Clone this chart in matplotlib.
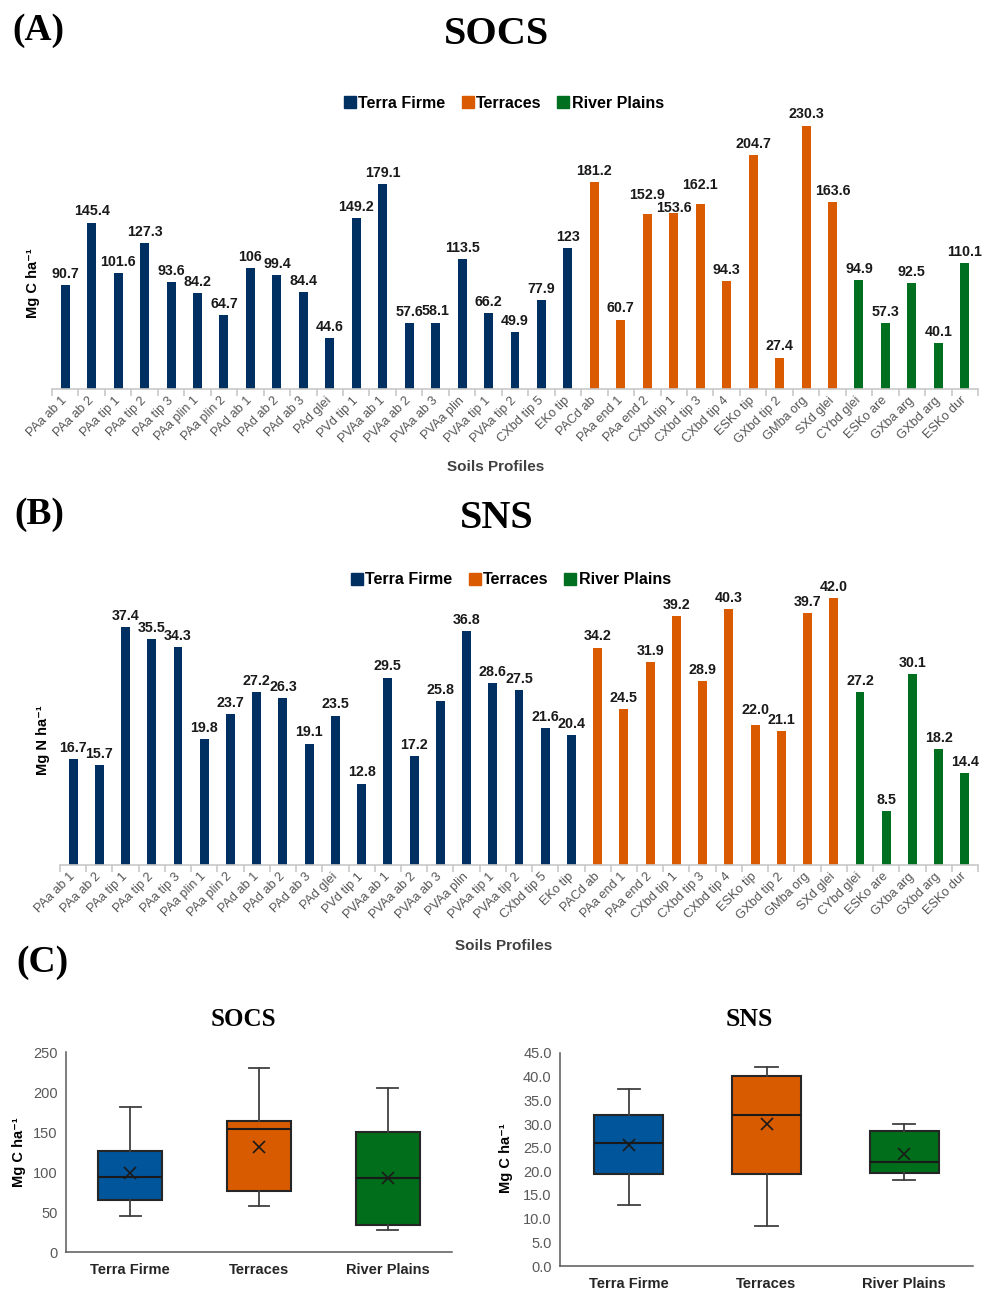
import matplotlib.pyplot as plt
from matplotlib.patches import Patch
from matplotlib.ticker import FormatStrFormatter
import numpy as np

plt.rcParams['font.family'] = ['Liberation Sans', 'DejaVu Sans']

# soil profiles, grouped by landscape position
terra_firme = ['PAa ab 1', 'PAa ab 2', 'PAa tip 1', 'PAa tip 2', 'PAa tip 3',
               'PAa plin 1', 'PAa plin 2', 'PAd ab 1', 'PAd ab 2', 'PAd ab 3',
               'PAd glei', 'PVd tip 1', 'PVAa ab 1', 'PVAa ab 2', 'PVAa ab 3',
               'PVAa plin', 'PVAa tip 1', 'PVAa tip 2', 'CXbd tip 5', 'EKo tip']
terraces = ['PACd ab', 'PAa end 1', 'PAa end 2', 'CXbd tip 1', 'CXbd tip 3',
            'CXbd tip 4', 'ESKo tip', 'GXbd tip 2', 'GMba org', 'SXd glei']
river_plains = ['CYbd glei', 'ESKo are', 'GXba arg', 'GXbd arg', 'ESKo dur']

# soil organic carbon stock (Mg C / ha)
socs_tf = [90.7, 145.4, 101.6, 127.3, 93.6, 84.2, 64.7, 106, 99.4, 84.4,
           44.6, 149.2, 179.1, 57.6, 58.1, 113.5, 66.2, 49.9, 77.9, 123]
socs_te = [181.2, 60.7, 152.9, 153.6, 162.1, 94.3, 204.7, 27.4, 230.3, 163.6]
socs_rp = [94.9, 57.3, 92.5, 40.1, 110.1]

# soil nitrogen stock (Mg N / ha)
sns_tf = [16.7, 15.7, 37.4, 35.5, 34.3, 19.8, 23.7, 27.2, 26.3, 19.1,
          23.5, 12.8, 29.5, 17.2, 25.8, 36.8, 28.6, 27.5, 21.6, 20.4]
sns_te = [34.2, 24.5, 31.9, 39.2, 28.9, 40.3, 22.0, 21.1, 39.7, 42.0]
sns_rp = [27.2, 8.5, 30.1, 18.2, 14.4]

groups = ['Terra Firme', 'Terraces', 'River Plains']

# box summaries: whisker low, Q1, median, Q3, whisker high, mean
socs_box = [[44.6, 65.2, 93.4, 125.8, 181.2, 99.3],
            [57.3, 76.8, 153.2, 164.0, 230.3, 131.6],
            [27.4, 33.2, 92.2, 150.3, 204.7, 92.2]]
sns_box = [[12.8, 19.5, 25.9, 31.95, 37.4, 25.5],
           [8.5, 19.4, 31.95, 40.05, 42.0, 30.1],
           [18.2, 19.75, 22.0, 28.56, 30.1, 23.7]]

bar_colors = ['#002F61', '#DA5A00', '#007020']
box_colors = ['#00559B', '#D95B00', '#006E1A']

W, H = 992, 1293


def rect(l, t, r, b):
    return [l / W, 1 - b / H, (r - l) / W, (b - t) / H]


def fx(x):
    return x / W


def fy(y):
    return 1 - y / H


fig = plt.figure(figsize=(W / 100, H / 100), dpi=100)
serif = ['Liberation Serif', 'DejaVu Serif']


def bar_panel(ax, vals, fmt, ymax, nudge):
    names = terra_firme + terraces + river_plains
    start = 0
    for v, c in zip(vals, bar_colors):
        x = np.arange(start, start + len(v))
        bars = ax.bar(x, v, width=0.34, color=c)
        for i, (b, val) in enumerate(zip(bars, v)):
            dy = 3 + nudge.get(start + i, 0)
            ax.annotate(fmt(val), (b.get_x() + b.get_width() / 2, val),
                        xytext=(0, dy), textcoords='offset points',
                        ha='center', va='bottom', fontsize=10.3,
                        fontweight='bold', color='#1a1a1a')
        start += len(v)
    ax.set_xlim(-0.5, len(names) - 0.5)
    ax.set_ylim(0, ymax)
    ax.set_yticks([])
    for s in ['top', 'right', 'left']:
        ax.spines[s].set_visible(False)
    ax.spines['bottom'].set_color('#c8c8c8')
    ax.spines['bottom'].set_linewidth(1.2)
    ax.set_xticks(np.arange(-0.5, len(names)), labels=[])
    ax.tick_params(axis='x', which='major', length=5, color='#c8c8c8', width=1.2)
    ax.set_xticks(np.arange(len(names)), labels=names, minor=True)
    ax.tick_params(axis='x', which='minor', length=0, pad=7,
                   labelsize=9.2, labelcolor='#555555')
    for lab in ax.get_xticklabels(minor=True):
        lab.set_rotation(45)
        lab.set_ha('right')
        lab.set_va('center')
        lab.set_rotation_mode('anchor')


handles = [Patch(color=c, label=g) for c, g in zip(bar_colors, groups)]

# (A) SOCS per profile
axA = fig.add_axes(rect(52, 103, 978, 389))
bar_panel(axA, [socs_tf, socs_te, socs_rp], lambda v: f'{v:g}', 250,
          {22: 6, 23: -4, 24: 5})
fig.text(fx(12), fy(31), '(A)', family=serif, fontweight='bold', fontsize=27,
         va='center', ha='left')
fig.text(fx(496), fy(34), 'SOCS', family=serif, fontweight='bold',
         fontsize=29, va='center', ha='center')
fig.legend(handles=handles, loc='center', bbox_to_anchor=(fx(504), fy(103)),
           ncol=3, frameon=False, handlelength=0.75, handleheight=0.75,
           handletextpad=0.15, columnspacing=1.0,
           prop={'weight': 'bold', 'size': 11.5})
fig.text(fx(33), fy(283), 'Mg C ha⁻¹', rotation=90,
         fontweight='bold', fontsize=10.5, ha='center', va='center')
fig.text(fx(496), fy(467), 'Soils Profiles', fontweight='bold', fontsize=11,
         color='#404040', ha='center', va='center')

# (B) SNS per profile
axB = fig.add_axes(rect(60, 579, 978, 865))
bar_panel(axB, [sns_tf, sns_te, sns_rp], lambda v: f'{v:.1f}', 45,
          {26: 3})
fig.text(fx(14), fy(515), '(B)', family=serif, fontweight='bold', fontsize=27,
         va='center', ha='left')
fig.text(fx(497), fy(518), 'SNS', family=serif, fontweight='bold',
         fontsize=29, va='center', ha='center')
fig.legend(handles=handles, loc='center', bbox_to_anchor=(fx(511), fy(580)),
           ncol=3, frameon=False, handlelength=0.75, handleheight=0.75,
           handletextpad=0.15, columnspacing=1.0,
           prop={'weight': 'bold', 'size': 11.5})
fig.text(fx(43), fy(740), 'Mg N ha⁻¹', rotation=90,
         fontweight='bold', fontsize=10.5, ha='center', va='center')
fig.text(fx(504), fy(946), 'Soils Profiles', fontweight='bold', fontsize=11,
         color='#404040', ha='center', va='center')

# (C) box plots by landscape position
fig.text(fx(16), fy(962), '(C)', family=serif, fontweight='bold', fontsize=27,
         va='center', ha='left')


def box_panel(ax, summary, ymax, step, fmt):
    stats = []
    for g, (lo, q1, med, q3, hi, mean) in zip(groups, summary):
        stats.append(dict(label=g, whislo=lo, q1=q1, med=med, q3=q3,
                          whishi=hi, mean=mean, fliers=[]))
    bp = ax.bxp(stats, positions=[0, 1, 2], widths=0.5, patch_artist=True,
                showmeans=True, showfliers=False,
                boxprops=dict(edgecolor='#262626', linewidth=1.5),
                medianprops=dict(color='#1a1a1a', linewidth=1.5),
                whiskerprops=dict(color='#404040', linewidth=1.3),
                capprops=dict(color='#404040', linewidth=1.3),
                capwidths=0.16,
                meanprops=dict(marker='x', markeredgecolor='#1a1a1a',
                               markersize=8, markeredgewidth=1.2))
    for patch, c in zip(bp['boxes'], box_colors):
        patch.set_facecolor(c)
    ax.set_xlim(-0.5, 2.5)
    ax.set_ylim(0, ymax)
    ax.set_yticks(np.arange(0, ymax + step / 2, step))
    ax.yaxis.set_major_formatter(FormatStrFormatter(fmt))
    for s in ['top', 'right']:
        ax.spines[s].set_visible(False)
    for s in ['left', 'bottom']:
        ax.spines[s].set_color('#595959')
        ax.spines[s].set_linewidth(1.1)
    ax.tick_params(axis='y', length=0, pad=6, labelsize=10.5,
                   labelcolor='#595959')
    ax.tick_params(axis='x', length=0, pad=8, labelsize=10.5)
    for lab in ax.get_xticklabels():
        lab.set_fontweight('bold')
        lab.set_color('#262626')


axC1 = fig.add_axes(rect(66, 1052, 452, 1252))
box_panel(axC1, socs_box, 250, 50, '%d')
fig.text(fx(243), fy(1020), 'SOCS', family=serif, fontweight='bold',
         fontsize=18, ha='center', va='center')
fig.text(fx(19), fy(1152), 'Mg C ha⁻¹', rotation=90,
         fontweight='bold', fontsize=10.5, ha='center', va='center')

axC2 = fig.add_axes(rect(560, 1053, 973, 1266))
box_panel(axC2, sns_box, 45, 5, '%.1f')
fig.text(fx(749), fy(1020), 'SNS', family=serif, fontweight='bold',
         fontsize=18.5, ha='center', va='center')
fig.text(fx(506), fy(1158), 'Mg C ha⁻¹', rotation=90,
         fontweight='bold', fontsize=10.5, ha='center', va='center')

fig.savefig('out.png', dpi=100, facecolor='white')
